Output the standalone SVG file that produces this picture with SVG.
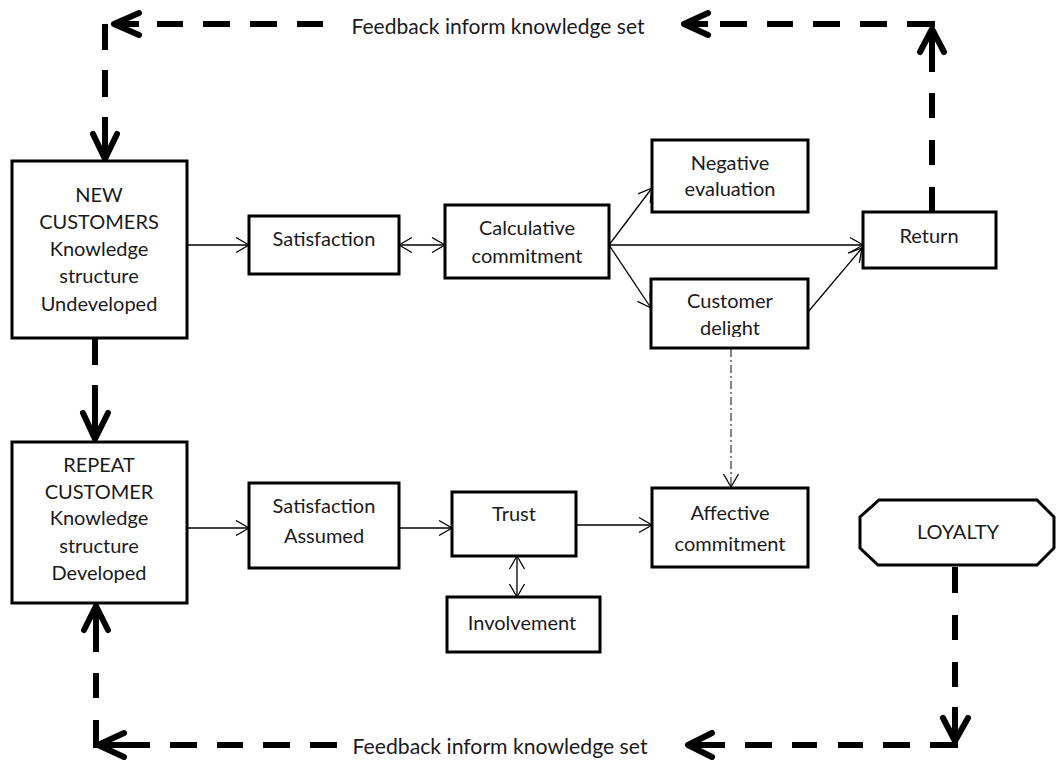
<svg xmlns="http://www.w3.org/2000/svg" width="1056" height="760" viewBox="0 0 1056 760">
<style>
.box{fill:#fff;stroke:#000;stroke-width:3}
.t{font-family:Lato,"Open Sans","Liberation Sans",sans-serif;font-size:20px;fill:#1a1a1a;text-anchor:middle}
.fb{font-size:22px}
.thick{fill:none;stroke:#000;stroke-width:6}
.head{fill:none;stroke:#000;stroke-width:6;stroke-linejoin:round;stroke-linecap:round}
.thin{fill:none;stroke:#000;stroke-width:1.3}
.dd{fill:none;stroke:#333;stroke-width:1.2;stroke-dasharray:8 3 2 3}
</style>
<defs>
<marker id="ah" markerUnits="userSpaceOnUse" markerWidth="16" markerHeight="18" viewBox="0 0 16 18" refX="14" refY="9" orient="auto-start-reverse">
<path d="M1,1.5 L14,9 L1,16.5" fill="none" stroke="#000" stroke-width="1.3"/>
</marker>
<clipPath id="cd"><rect x="651" y="279" width="157" height="58"/></clipPath>
</defs>
<g id="connectors">
<path class="thick" d="M105,24 V50 M105,70 V97 M105,117 V158"/>
<path class="head" d="M93,134 L105,159 L117,134"/>
<path class="thick" d="M113,24 H139 M157,24 H183 M203,24 H230 M250,24 H277 M297,24 H323"/>
<path class="head" d="M139,13 L114,24 L139,35"/>
<path class="thick" d="M684,24 H708 M720,24 H747 M767,24 H793 M813,24 H840 M860,24 H887 M907,24 H935"/>
<path class="head" d="M708,13 L684,24 L708,35"/>
<path class="thick" d="M932,30 V72 M932,93 V118 M932,140 V165 M932,187 V212"/>
<path class="head" d="M920,52 L932,29 L944,52"/>
<path class="thick" d="M95,339 V365 M95,385 V438"/>
<path class="head" d="M83,413 L95,439 L108,413"/>
<path class="thick" d="M96,607 V652 M96,673 V698 M96,720 V748"/>
<path class="head" d="M84,630 L96,606 L108,630"/>
<path class="thick" d="M98,745 H150 M170,745 H197 M217,745 H243 M263,745 H290 M310,745 H337"/>
<path class="head" d="M124,733 L98,745 L124,757"/>
<path class="thick" d="M688,745 H725 M745,745 H772 M792,745 H817 M838,745 H863 M883,745 H910 M930,745 H958"/>
<path class="head" d="M712,733 L688,745 L712,757"/>
<path class="thick" d="M955,567 V593 M955,615 V640 M955,662 V687 M955,707 V740"/>
<path class="head" d="M943,718 L955,741 L968,718"/>
<path class="thin" d="M187,245 H249" marker-end="url(#ah)"/>
<path class="thin" d="M399,245 H445" marker-start="url(#ah)" marker-end="url(#ah)"/>
<path class="thin" d="M609,245 L652,188" marker-end="url(#ah)"/>
<path class="thin" d="M609,245 H863" marker-end="url(#ah)"/>
<path class="thin" d="M609,245 L651,308" marker-end="url(#ah)"/>
<path class="thin" d="M808,312 L862,248" marker-end="url(#ah)"/>
<path class="dd" d="M731,349 V487" marker-end="url(#ah)"/>
<path class="thin" d="M187,528 H249" marker-end="url(#ah)"/>
<path class="thin" d="M399,528 H452" marker-end="url(#ah)"/>
<path class="thin" d="M576,525 H652" marker-end="url(#ah)"/>
<path class="thin" d="M517,556 V597" marker-start="url(#ah)" marker-end="url(#ah)"/>
<text class="t fb" x="498" y="34" textLength="293" lengthAdjust="spacingAndGlyphs">Feedback inform knowledge set</text>
<text class="t fb" x="500" y="754" textLength="295" lengthAdjust="spacingAndGlyphs">Feedback inform knowledge set</text>
</g>
<g id="new-customers">
<rect class="box" x="12" y="161" width="175" height="177"/>
<text class="t" x="99" y="202">NEW</text>
<text class="t" x="99" y="229">CUSTOMERS</text>
<text class="t" x="99" y="256">Knowledge</text>
<text class="t" x="99" y="283">structure</text>
<text class="t" x="99" y="311">Undeveloped</text>
</g>
<g id="satisfaction">
<rect class="box" x="249" y="216" width="150" height="58"/>
<text class="t" x="324" y="246">Satisfaction</text>
</g>
<g id="calculative-commitment">
<rect class="box" x="445" y="205" width="164" height="73"/>
<text class="t" x="527" y="235">Calculative</text>
<text class="t" x="527" y="263">commitment</text>
</g>
<g id="negative-evaluation">
<rect class="box" x="652" y="140" width="156" height="72"/>
<text class="t" x="730" y="170">Negative</text>
<text class="t" x="730" y="196">evaluation</text>
</g>
<g id="return">
<rect class="box" x="863" y="212" width="133" height="56"/>
<text class="t" x="929" y="243">Return</text>
</g>
<g id="customer-delight">
<rect class="box" x="651" y="279" width="157" height="69"/>
<text class="t" x="730" y="308">Customer</text>
<text class="t" x="730" y="335" clip-path="url(#cd)">delight</text>
</g>
<g id="repeat-customer">
<rect class="box" x="12" y="442" width="175" height="161"/>
<text class="t" x="99" y="472">REPEAT</text>
<text class="t" x="99" y="499">CUSTOMER</text>
<text class="t" x="99" y="525">Knowledge</text>
<text class="t" x="99" y="553">structure</text>
<text class="t" x="99" y="580">Developed</text>
</g>
<g id="satisfaction-assumed">
<rect class="box" x="249" y="483" width="150" height="85"/>
<text class="t" x="324" y="513">Satisfaction</text>
<text class="t" x="324" y="543">Assumed</text>
</g>
<g id="trust">
<rect class="box" x="452" y="492" width="124" height="64"/>
<text class="t" x="514" y="521">Trust</text>
</g>
<g id="involvement">
<rect class="box" x="447" y="597" width="153" height="55"/>
<text class="t" x="522" y="630">Involvement</text>
</g>
<g id="affective-commitment">
<rect class="box" x="652" y="488" width="156" height="79"/>
<text class="t" x="730" y="520">Affective</text>
<text class="t" x="730" y="551">commitment</text>
</g>
<g id="loyalty">
<path class="box" d="M879,500 H1037 L1054,517 V548 L1037,565 H878 L860,548 V517 Z"/>
<text class="t" x="958" y="539">LOYALTY</text>
</g>
</svg>
